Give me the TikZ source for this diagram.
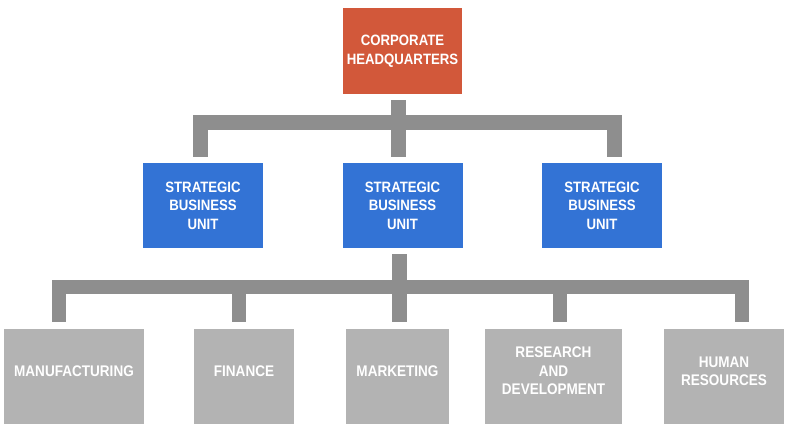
\documentclass[tikz,border=0pt]{standalone}
\usepackage{fontspec}
\newfontfamily\chartfont{Liberation Sans}[FakeStretch=0.88]
\usetikzlibrary{positioning}

\definecolor{hqred}{HTML}{D2583A}
\definecolor{sbublue}{HTML}{3373D5}
\definecolor{bargray}{HTML}{8E8E8E}
\definecolor{deptgray}{HTML}{B3B3B3}

\begin{document}
\begin{tikzpicture}[
    x=1pt, y=-1pt,
    unit/.style={inner sep=0pt, align=center, text=white,
                 font=\chartfont\bfseries\fontsize{15}{18.5}\selectfont},
    hqbox/.style={unit, fill=hqred, minimum width=119pt, minimum height=86pt},
    sbubox/.style={unit, fill=sbublue, minimum width=120pt, minimum height=85pt},
    deptbox/.style={unit, fill=deptgray, minimum height=95pt, text depth=11pt,
                    font=\chartfont\bfseries\fontsize{15.4}{18.5}\selectfont},
    bar/.style={draw=bargray, line width=15pt, line join=miter},
    lowbar/.style={draw=bargray, line width=14pt, line join=miter},
]
\useasboundingbox (0,0) rectangle (800,424);

% ── Level 1: headquarters ──
\node[hqbox] (hq) at (402.5,51) {CORPORATE\\HEADQUARTERS};

% ── Level 2: business units ──
\node[sbubox] (sbu1) at (203,205.5) {STRATEGIC\\BUSINESS\\UNIT};
\node[sbubox] (sbu2) at (402.5,205.5) {STRATEGIC\\BUSINESS\\UNIT};
\node[sbubox] (sbu3) at (602,205.5) {STRATEGIC\\BUSINESS\\UNIT};

% ── Level 3: departments ──
\node[deptbox, minimum width=140pt] (mfg) at (74,376.5) {MANUFACTURING};
\node[deptbox, minimum width=100pt] (fin) at (244,376.5) {FINANCE};
\node[deptbox, minimum width=103pt] (mkt) at (397.5,376.5) {MARKETING};
\node[deptbox, minimum width=137pt] (rd) at (553.5,376.5) {RESEARCH\\AND\\DEVELOPMENT};
\node[deptbox, minimum width=120pt] (hr) at (724,376.5) {HUMAN\\RESOURCES};

% ── Bar coordinates ──
\coordinate (topbar) at (398.5,122);
\coordinate (botbar) at (398.5,286.5);
\coordinate (sbu1in) at ([xshift=-3pt,yshift=6pt]sbu1.north);
\coordinate (sbu3in) at ([xshift=12.5pt,yshift=6pt]sbu3.north);
\coordinate (mfgin) at ([xshift=-15.5pt,yshift=7pt]mfg.north);
\coordinate (finin) at ([xshift=-5pt,yshift=7pt]fin.north);
\coordinate (mktin) at ([xshift=1.5pt,yshift=7pt]mkt.north);
\coordinate (rdin) at ([xshift=6.5pt,yshift=7pt]rd.north);
\coordinate (hrin) at ([xshift=17.5pt,yshift=7pt]hr.north);

% ── Connectors ──
\draw[bar] ([xshift=-4pt,yshift=-6pt]hq.south) -- ([xshift=-4pt,yshift=6pt]sbu2.north);
\draw[bar] (sbu1in) |- (topbar) -| (sbu3in);
\draw[bar] ([xshift=-3.5pt,yshift=-6pt]sbu2.south) -- (mktin);
\draw[lowbar] (mfgin) |- (botbar) -| (hrin);
\draw[lowbar] (finin) -- (finin |- botbar);
\draw[lowbar] (rdin) -- (rdin |- botbar);

\end{tikzpicture}
\end{document}
